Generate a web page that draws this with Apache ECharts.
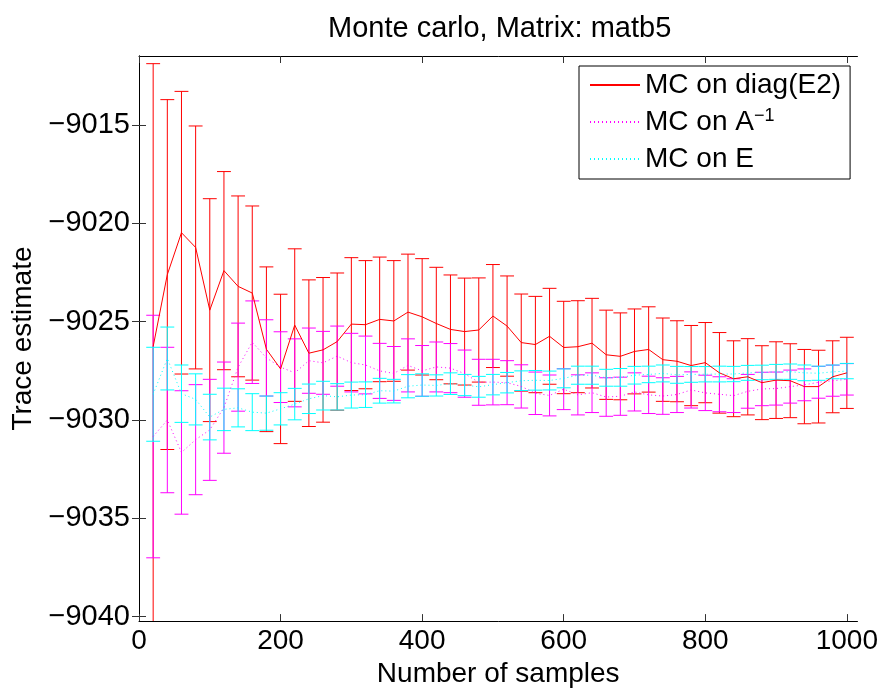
<!DOCTYPE html>
<html>
<head>
<meta charset="utf-8">
<title>Monte carlo, Matrix: matb5</title>
<script src="https://cdn.jsdelivr.net/npm/echarts@6/dist/echarts.min.js"></script>
<style>
  html, body { margin: 0; padding: 0; background: #fff; }
  #chart { width: 881px; height: 693px; }
</style>
</head>
<body>
<div id="chart"></div>
<script type="text/javascript">
// number of samples
var samples = [20, 40, 60, 80, 100, 120, 140, 160, 180, 200,
               220, 240, 260, 280, 300, 320, 340, 360, 380, 400,
               420, 440, 460, 480, 500, 520, 540, 560, 580, 600,
               620, 640, 660, 680, 700, 720, 740, 760, 780, 800,
               820, 840, 860, 880, 900, 920, 940, 960, 980, 1000];

// MC on diag(E2): mean and half error bar
var diagMean = [-9026.26, -9022.60, -9020.47, -9021.22, -9024.41, -9022.40, -9023.20, -9023.54, -9026.40, -9027.40,
                -9025.17, -9026.60, -9026.43, -9026.01, -9025.12, -9025.15, -9024.88, -9024.96, -9024.51, -9024.75,
                -9025.09, -9025.39, -9025.50, -9025.42, -9024.71, -9025.22, -9026.06, -9026.16, -9025.74, -9026.31,
                -9026.27, -9026.09, -9026.68, -9026.76, -9026.51, -9026.41, -9026.93, -9027.01, -9027.23, -9027.08,
                -9027.60, -9027.90, -9027.80, -9028.10, -9027.97, -9028.00, -9028.30, -9028.30, -9027.80, -9027.60];
var diagErr = [14.39, 8.90, 7.19, 6.18, 5.67, 5.04, 4.60, 4.43, 4.19, 3.80,
               3.88, 3.73, 3.68, 3.49, 3.38, 3.26, 3.17, 3.07, 2.95, 2.96,
               2.86, 2.77, 2.72, 2.65, 2.62, 2.55, 2.47, 2.45, 2.44, 2.35,
               2.34, 2.28, 2.27, 2.21, 2.16, 2.17, 2.12, 2.06, 2.04, 2.04,
               2.05, 1.93, 1.94, 1.88, 1.95, 1.88, 1.89, 1.85, 1.83, 1.81];

// MC on A^-1
var invMean = [-9030.84, -9030.00, -9031.65, -9031.00, -9030.50, -9029.37, -9027.31, -9026.04, -9026.84, -9027.31,
               -9027.60, -9026.98, -9027.09, -9026.75, -9027.08, -9027.20, -9027.50, -9027.63, -9027.22, -9027.50,
               -9027.30, -9027.36, -9027.64, -9028.08, -9028.07, -9028.10, -9028.29, -9028.64, -9028.75, -9028.43,
               -9028.72, -9028.61, -9028.83, -9028.79, -9028.57, -9028.72, -9028.78, -9028.70, -9028.47, -9028.62,
               -9028.69, -9028.76, -9028.54, -9028.42, -9028.40, -9028.30, -9028.21, -9028.08, -9028.00, -9027.93];
var invErr = [6.17, 3.70, 3.14, 2.80, 2.57, 2.32, 2.24, 2.10, 1.94, 1.80,
              1.73, 1.66, 1.60, 1.53, 1.49, 1.47, 1.40, 1.37, 1.35, 1.29,
              1.27, 1.25, 1.20, 1.17, 1.16, 1.12, 1.10, 1.08, 1.04, 1.04,
              1.02, 1.01, 0.98, 0.97, 0.97, 0.95, 0.93, 0.92, 0.92, 0.90,
              0.89, 0.86, 0.86, 0.85, 0.84, 0.84, 0.81, 0.81, 0.79, 0.80];

// MC on E
var eMean = [-9028.69, -9026.87, -9028.66, -9028.95, -9029.85, -9029.46, -9029.38, -9029.60, -9029.65, -9029.43,
             -9029.19, -9028.92, -9028.76, -9028.82, -9028.73, -9028.71, -9028.51, -9028.53, -9028.28, -9028.22,
             -9028.24, -9028.15, -9028.22, -9028.31, -9028.20, -9028.10, -9028.00, -9027.98, -9027.99, -9027.88,
             -9027.72, -9027.72, -9027.85, -9027.83, -9027.72, -9027.68, -9027.63, -9027.70, -9027.68, -9027.67,
             -9027.66, -9027.66, -9027.60, -9027.58, -9027.55, -9027.54, -9027.60, -9027.62, -9027.55, -9027.51];
var eErr = [2.39, 1.60, 1.46, 1.30, 1.16, 1.08, 0.97, 0.94, 0.87, 0.82,
            0.80, 0.75, 0.73, 0.67, 0.66, 0.65, 0.63, 0.60, 0.59, 0.57,
            0.54, 0.55, 0.54, 0.53, 0.52, 0.52, 0.50, 0.50, 0.48, 0.48,
            0.46, 0.46, 0.43, 0.45, 0.45, 0.42, 0.43, 0.43, 0.40, 0.39,
            0.40, 0.39, 0.38, 0.37, 0.38, 0.39, 0.40, 0.36, 0.35, 0.39];

var xTicks = [0, 200, 400, 600, 800, 1000];
var yTicks = [-9040, -9035, -9030, -9025, -9020, -9015];

var FONT = 'Liberation Sans, Arial, Helvetica, sans-serif';
var tee = 9.8; // half width of error bar caps, in x units

function pairs(means, errs) {
    var out = [];
    for (var i = 0; i < samples.length; i++) out.push([samples[i], means[i], errs[i]]);
    return out;
}
function line(means) {
    var out = [];
    for (var i = 0; i < samples.length; i++) out.push([samples[i], means[i]]);
    return out;
}
function errorBars(color) {
    return function (params, api) {
        var x = api.value(0), m = api.value(1), e = api.value(2);
        var hi = api.coord([x, m + e]), lo = api.coord([x, m - e]);
        var l = api.coord([x - tee, m]), r = api.coord([x + tee, m]);
        var st = { stroke: color, lineWidth: 1, fill: null };
        return {
            type: 'group',
            children: [
                { type: 'line', shape: { x1: hi[0], y1: hi[1], x2: lo[0], y2: lo[1] }, style: st },
                { type: 'line', shape: { x1: l[0], y1: hi[1], x2: r[0], y2: hi[1] }, style: st },
                { type: 'line', shape: { x1: l[0], y1: lo[1], x2: r[0], y2: lo[1] }, style: st }
            ]
        };
    };
}
function minusFmt(v) {
    return v < 0 ? '\u2212' + Math.abs(v) : String(v);
}

var myChart = echarts.init(document.getElementById('chart'));
var axisLine = { show: true, lineStyle: { color: '#000', width: 1 } };
var tick = { show: true, inside: true, length: 7, lineStyle: { color: '#333' } };

var option = {
    backgroundColor: '#fff',
    animation: false,
    title: {
        text: 'Monte carlo, Matrix: matb5',
        left: 323, top: 9,
        textStyle: { fontFamily: FONT, fontSize: 29, fontWeight: 'normal', color: '#000' }
    },
    grid: { left: 139, right: 23, top: 56, bottom: 65 },
    legend: {
        orient: 'vertical',
        left: 579, top: 66,
        padding: [4, 9, 5, 10],
        itemGap: 7,
        itemWidth: 50, itemHeight: 14,
        backgroundColor: '#fff',
        borderColor: '#000', borderWidth: 1,
        itemStyle: { opacity: 0 },
        data: ['MC on diag(E2)', 'MC on A^-1', 'MC on E'],
        formatter: function (name) {
            return name === 'MC on A^-1' ? 'MC on A{sup|\u22121}' : name;
        },
        textStyle: {
            fontFamily: FONT, fontSize: 28, color: '#000', lineHeight: 30,
            rich: { sup: { fontFamily: FONT, fontSize: 18, color: '#000', verticalAlign: 'top', lineHeight: 18 } }
        }
    },
    xAxis: [{
        type: 'value', min: 0, max: 1015, position: 'bottom',
        axisLine: axisLine, axisTick: Object.assign({ customValues: xTicks }, tick),
        splitLine: { show: false },
        axisLabel: {
            customValues: xTicks, formatter: function (v) { return String(v); },
            fontFamily: FONT, fontSize: 28, color: '#000', margin: 6
        },
        name: 'Number of samples', nameLocation: 'middle', nameGap: 33,
        nameTextStyle: { fontFamily: FONT, fontSize: 28, color: '#000' }
    }, {
        type: 'value', min: 0, max: 1015, position: 'top',
        axisLine: axisLine, axisTick: Object.assign({ customValues: xTicks }, tick),
        splitLine: { show: false }, axisLabel: { show: false }
    }],
    yAxis: [{
        type: 'value', min: -9040.23, max: -9011.48, position: 'left',
        axisLine: axisLine, axisTick: Object.assign({ customValues: yTicks }, tick),
        splitLine: { show: false },
        axisLabel: { customValues: yTicks, formatter: minusFmt, fontFamily: FONT, fontSize: 29, color: '#000', margin: 9 },
        name: 'Trace estimate', nameLocation: 'middle', nameGap: 98, nameRotate: 90,
        nameTextStyle: { fontFamily: FONT, fontSize: 28, color: '#000' }
    }, {
        type: 'value', min: -9040.23, max: -9011.48, position: 'right',
        axisLine: axisLine, axisTick: Object.assign({ customValues: yTicks }, tick),
        splitLine: { show: false }, axisLabel: { show: false }
    }],
    series: [
        {
            name: 'MC on diag(E2)', type: 'line', data: line(diagMean),
            symbol: 'none', lineStyle: { color: '#ff0000', width: 1 }, itemStyle: { color: '#ff0000' }
        },
        {
            name: 'errDiag', type: 'custom', data: pairs(diagMean, diagErr),
            renderItem: errorBars('#ff0000'), clip: true, encode: { x: 0, y: 1 }
        },
        {
            name: 'MC on A^-1', type: 'line', data: line(invMean),
            symbol: 'none', lineStyle: { color: '#ff00ff', width: 1, type: [1, 3] }, itemStyle: { color: '#ff00ff' }
        },
        {
            name: 'errInv', type: 'custom', data: pairs(invMean, invErr),
            renderItem: errorBars('#ff00ff'), clip: true, encode: { x: 0, y: 1 }
        },
        {
            name: 'MC on E', type: 'line', data: line(eMean),
            symbol: 'none', lineStyle: { color: '#00ffff', width: 1, type: [1, 3] }, itemStyle: { color: '#00ffff' }
        },
        {
            name: 'errE', type: 'custom', data: pairs(eMean, eErr),
            renderItem: errorBars('#00ffff'), clip: true, encode: { x: 0, y: 1 }
        }
    ]
};

myChart.setOption(option);
</script>
</body>
</html>
